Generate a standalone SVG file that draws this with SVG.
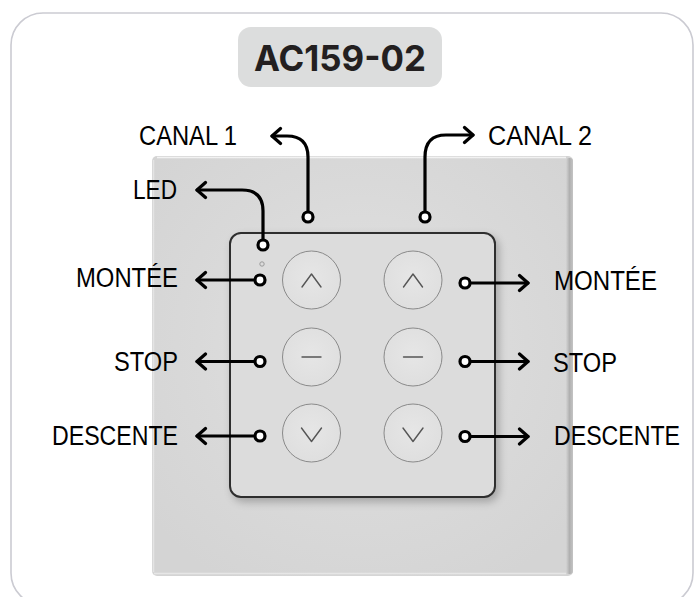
<svg xmlns="http://www.w3.org/2000/svg" width="698" height="597" viewBox="0 0 698 597">
<style>
.lbl{font-family:"Liberation Sans",Arial,sans-serif;font-size:27px;fill:#000}
.title{font-family:Inter,"Noto Sans","Liberation Sans",sans-serif;font-weight:700;font-size:36px;fill:#231f20}
.btn{fill:url(#btnG);stroke:#8a8a8a;stroke-width:1}
.ico{fill:none;stroke:#555;stroke-width:1.4;stroke-linecap:round;stroke-linejoin:round}
.con{fill:none;stroke:#000;stroke-width:3.2;stroke-linecap:round;stroke-linejoin:round}
.dot{fill:#fff;stroke:#000;stroke-width:3.2}
</style>
<defs>
<radialGradient id="plateG" cx="0.5" cy="0.45" r="0.65">
<stop offset="0" stop-color="#e2e2e2"/>
<stop offset="0.6" stop-color="#d9d9d9"/>
<stop offset="1" stop-color="#d4d4d4"/>
</radialGradient>
<linearGradient id="edgeR" x1="0" y1="0" x2="1" y2="0">
<stop offset="0" stop-color="#d4d4d4"/>
<stop offset="0.5" stop-color="#b0b0b0"/>
<stop offset="1" stop-color="#c4c4c4"/>
</linearGradient>
<radialGradient id="btnG" cx="0.5" cy="0.45" r="0.6">
<stop offset="0" stop-color="#e6e6e6"/>
<stop offset="1" stop-color="#dedede"/>
</radialGradient>
<filter id="sh" x="-20%" y="-20%" width="140%" height="140%">
<feGaussianBlur in="SourceAlpha" stdDeviation="4"/>
<feOffset dx="3" dy="4" result="b"/>
<feComponentTransfer><feFuncA type="linear" slope="0.25"/></feComponentTransfer>
<feMerge><feMergeNode/><feMergeNode in="SourceGraphic"/></feMerge>
</filter>
<marker id="arr" markerUnits="userSpaceOnUse" viewBox="-12 -10 14 20" refX="0" refY="0" markerWidth="14" markerHeight="20" orient="auto">
<path d="M-8.5,-7.5 L0,0 L-8.5,7.5" fill="none" stroke="#000" stroke-width="3.2" stroke-linecap="round" stroke-linejoin="round"/>
</marker>
</defs>

<g id="frame">
<rect x="11" y="13" width="682" height="592" rx="32" fill="#fff" stroke="#cbcbd2" stroke-width="1.6"/>
</g>

<g id="title">
<rect x="238" y="27" width="204" height="60" rx="13" fill="#dcdddd"/>
<text class="title" x="254" y="71" textLength="172" lengthAdjust="spacingAndGlyphs">AC159-02</text>
</g>

<g id="plate">
<rect x="152" y="156" width="421" height="420" rx="5" fill="url(#plateG)"/>
<rect x="566" y="158" width="7" height="416" rx="3" fill="url(#edgeR)"/>
<path d="M157,157.5 H566" stroke="#f2f2f2" stroke-width="1.5"/>
<path d="M154,573.5 H566" stroke="#e6e6e6" stroke-width="1.5"/>
<path d="M153.5,160 V572" stroke="#e4e4e4" stroke-width="1.5"/>
</g>

<g id="panel">
<rect x="230" y="233" width="265" height="264" rx="11" fill="#dcdcdc" stroke="#2e2e2e" stroke-width="2" filter="url(#sh)"/>
<circle cx="262" cy="264" r="2.2" fill="none" stroke="#9a9a9a" stroke-width="1"/>
</g>

<g id="btn-l-up"><circle class="btn" cx="311.5" cy="280" r="29"/><path class="ico" d="M302,287 L311.5,274 L321,287"/></g>
<g id="btn-l-stop"><circle class="btn" cx="311.5" cy="357" r="29"/><path class="ico" d="M302,357 H321"/></g>
<g id="btn-l-down"><circle class="btn" cx="311.5" cy="433" r="29"/><path class="ico" d="M301.5,428 L311.5,441.5 L321.5,428"/></g>
<g id="btn-r-up"><circle class="btn" cx="413" cy="280" r="29"/><path class="ico" d="M403.5,287 L413,274 L422.5,287"/></g>
<g id="btn-r-stop"><circle class="btn" cx="413" cy="357" r="29"/><path class="ico" d="M403.5,357 H422.5"/></g>
<g id="btn-r-down"><circle class="btn" cx="413" cy="433" r="29"/><path class="ico" d="M403,428 L413,441.5 L423,428"/></g>

<g id="connectors">
<path class="con" d="M308,211 V157 Q308,136 287,136 H272" marker-end="url(#arr)"/>
<circle class="dot" cx="308" cy="217" r="5"/>
<path class="con" d="M263,239 V211 Q263,190 242,190 H197" marker-end="url(#arr)"/>
<circle class="dot" cx="263" cy="245" r="5"/>
<path class="con" d="M425,211 V157 Q425,135 446,135 H473" marker-end="url(#arr)"/>
<circle class="dot" cx="425" cy="217" r="5"/>

<path class="con" d="M254,280 H197" marker-end="url(#arr)"/>
<circle class="dot" cx="260" cy="280" r="5"/>
<path class="con" d="M254,361.5 H197" marker-end="url(#arr)"/>
<circle class="dot" cx="260" cy="361.5" r="5"/>
<path class="con" d="M254,436 H197" marker-end="url(#arr)"/>
<circle class="dot" cx="260" cy="436" r="5"/>

<path class="con" d="M471,283 H528" marker-end="url(#arr)"/>
<circle class="dot" cx="465" cy="283" r="5"/>
<path class="con" d="M471,361.5 H528" marker-end="url(#arr)"/>
<circle class="dot" cx="465" cy="361.5" r="5"/>
<path class="con" d="M471,436.5 H528" marker-end="url(#arr)"/>
<circle class="dot" cx="465" cy="436.5" r="5"/>
</g>

<g id="labels">
<text class="lbl" x="139" y="145" textLength="98" lengthAdjust="spacingAndGlyphs">CANAL 1</text>
<text class="lbl" x="133" y="199" textLength="44" lengthAdjust="spacingAndGlyphs">LED</text>
<text class="lbl" x="76" y="287" textLength="102" lengthAdjust="spacingAndGlyphs">MONTÉE</text>
<text class="lbl" x="114" y="371" textLength="64" lengthAdjust="spacingAndGlyphs">STOP</text>
<text class="lbl" x="52" y="445" textLength="126" lengthAdjust="spacingAndGlyphs">DESCENTE</text>
<text class="lbl" x="488" y="145" textLength="104" lengthAdjust="spacingAndGlyphs">CANAL 2</text>
<text class="lbl" x="554" y="290" textLength="103" lengthAdjust="spacingAndGlyphs">MONTÉE</text>
<text class="lbl" x="553" y="372" textLength="64" lengthAdjust="spacingAndGlyphs">STOP</text>
<text class="lbl" x="554" y="445" textLength="126" lengthAdjust="spacingAndGlyphs">DESCENTE</text>
</g>
</svg>
